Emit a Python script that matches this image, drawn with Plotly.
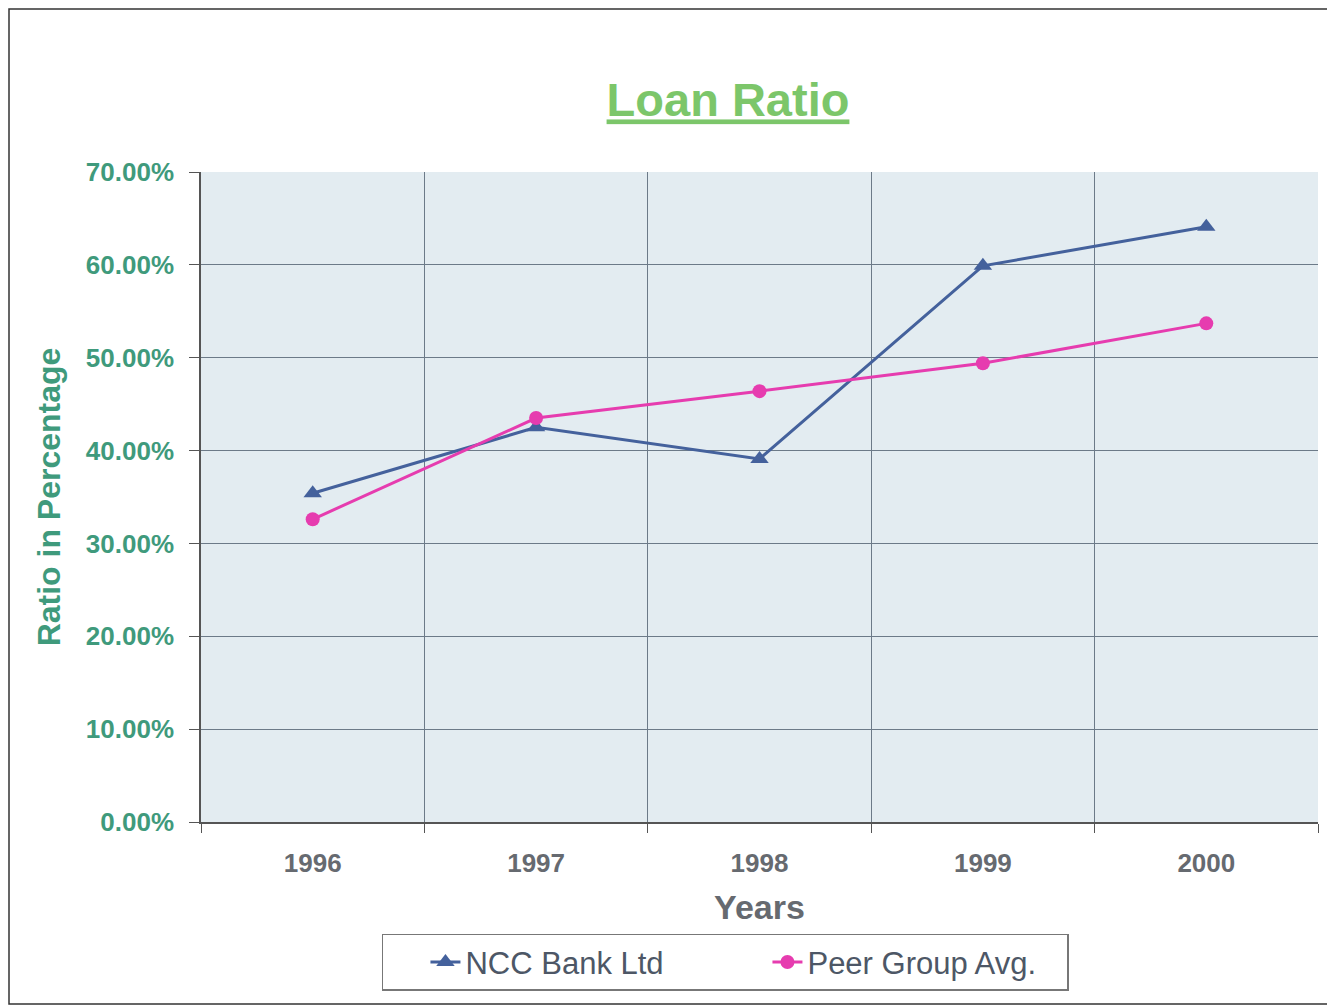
import plotly.graph_objects as go

# Datos
years = ["1996", "1997", "1998", "1999", "2000"]
ncc_bank = [0.354, 0.425, 0.391, 0.599, 0.641]
peer_avg = [0.326, 0.435, 0.464, 0.494, 0.537]
y_ticks = [0, 0.1, 0.2, 0.3, 0.4, 0.5, 0.6, 0.7]

fig = go.Figure()

fig.add_trace(go.Scatter(
    x=years, y=ncc_bank, name="NCC Bank Ltd", mode="lines+markers",
    line=dict(color="#44619c", width=3),
    marker=dict(symbol="triangle-up", size=16, color="#44619c"),
))
fig.add_trace(go.Scatter(
    x=years, y=peer_avg, name="Peer Group Avg.", mode="lines+markers",
    line=dict(color="#e63caf", width=3),
    marker=dict(symbol="circle", size=14, color="#e63caf"),
))

# la página añade 8px de margen al body, por eso el tamaño es algo menor
fig.update_layout(
    width=1327, height=997,
    margin=dict(l=193, r=17, t=164, b=183),
    paper_bgcolor="white",
    plot_bgcolor="#e3ecf1",
    font=dict(family="Liberation Sans, Arial, sans-serif"),
    title=dict(
        text="<b><u>Loan Ratio</u></b>",
        x=720 / 1327, xanchor="center",
        y=1 - 92 / 997, yanchor="middle",
        font=dict(size=47, color="#7cc66a"),
    ),
    showlegend=True,
    legend=dict(
        orientation="h",
        x=0.162, xanchor="left",
        y=-0.172, yanchor="top",
        bordercolor="#777777", borderwidth=1.5,
        bgcolor="white",
        font=dict(size=31, color="#4d5766"),
        entrywidth=255, entrywidthmode="pixels",
        indentation=42,
    ),
)

fig.update_xaxes(
    type="category",
    range=[-0.5, len(years) - 0.5],
    tickson="boundaries",
    ticks="outside", ticklen=9, tickcolor="#555555",
    showgrid=True, gridcolor="#6c7a88", gridwidth=1,
    showline=True, linecolor="#555555", linewidth=1.5,
    tickfont=dict(size=26, color="#666a70", weight="bold"),
    ticklabelstandoff=17,
    title=dict(text="Years", font=dict(size=34, color="#666a70", weight="bold"), standoff=18),
)

fig.update_yaxes(
    range=[0, 0.7],
    tickvals=y_ticks,
    tickformat=".2%",
    ticks="outside", ticklen=10, tickcolor="#555555",
    showgrid=True, gridcolor="#6c7a88", gridwidth=1,
    showline=True, linecolor="#555555", linewidth=1.5,
    zeroline=False,
    tickfont=dict(size=26, color="#3f9a7c", weight="bold"),
    ticklabelstandoff=10,
    title=dict(text="Ratio in Percentage", font=dict(size=32, color="#3f9a7c", weight="bold"), standoff=16),
)

# Marco exterior del gráfico
fig.add_shape(
    type="rect", xref="paper", yref="paper",
    x0=(1 - 193) / 1117, x1=(1323 - 193) / 1117,
    y0=(814 - 996) / 650, y1=(814 - 1) / 650,
    line=dict(color="#333333", width=1.5), fillcolor="rgba(0,0,0,0)",
    layer="below",
)

fig.write_html("out.html")
